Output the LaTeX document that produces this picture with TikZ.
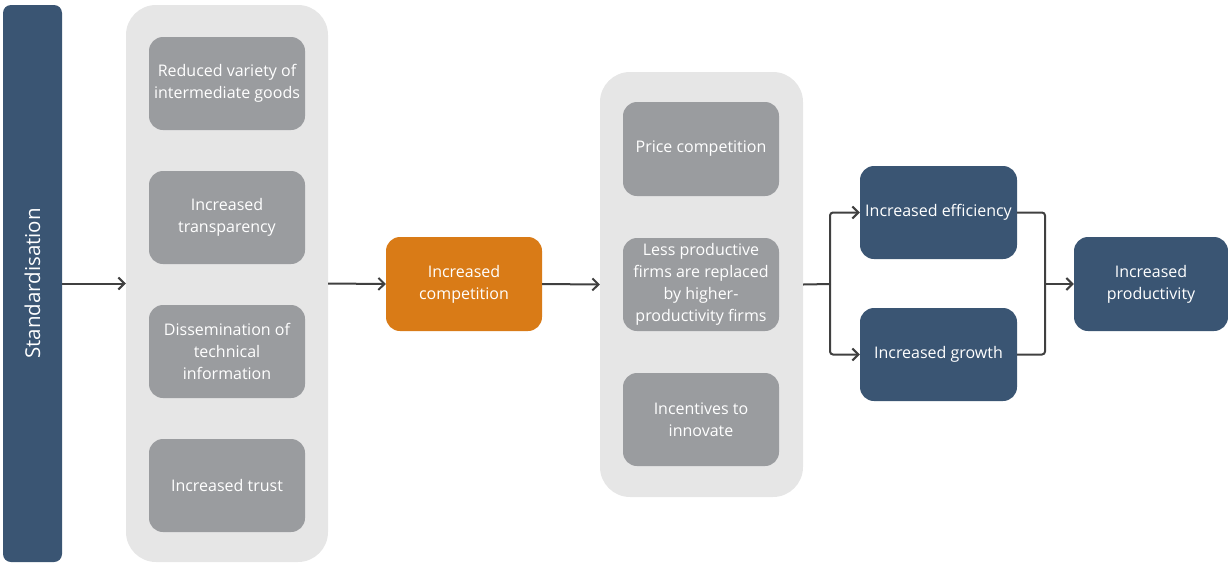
\documentclass[tikz,border=0pt]{standalone}
\usepackage{fontspec}
\setmainfont{Open Sans}
\usetikzlibrary{arrows.meta}

\definecolor{navy}{HTML}{3A5573}
\definecolor{panel}{HTML}{E6E6E6}
\definecolor{greybox}{HTML}{9A9C9F}
\definecolor{orangebox}{HTML}{D97B17}
\definecolor{linegrey}{HTML}{404040}

\tikzset{
	cell/.style={rounded corners=14pt, inner sep=0pt, text=white, align=center,
		font=\fontsize{16}{22}\selectfont},
	greycell/.style={cell, fill=greybox, minimum width=156pt, minimum height=93pt},
	bluecell/.style={cell, fill=navy, minimum width=157pt, minimum height=93pt},
	panelbox/.style={rounded corners=30pt, fill=panel, inner sep=0pt},
	link/.style={draw=linegrey, line width=2pt, -{Straight Barb[length=6pt,width=12pt]}},
	joint/.style={draw=linegrey, line width=2pt, rounded corners=3pt}
}

\begin{document}
\begin{tikzpicture}[x=1pt, y=-1pt]
		\useasboundingbox (0,0) rectangle (1228,563);

		% containers
		\node[panelbox, minimum width=202pt, minimum height=557pt] (left) at (227,283.5) {};
		\node[panelbox, minimum width=203pt, minimum height=425pt] (mid) at (701.5,284.5) {};

		% start bar
		\node[cell, rounded corners=8pt, fill=navy, minimum width=59pt, minimum height=557pt,
			font=\fontsize{20.5}{24}\selectfont] (std) at (32.5,283.5) {\rotatebox{90}{Standardisation}};

		% channels
		\node[greycell] (variety) at (227,83.5) {Reduced variety of\\intermediate goods};
		\node[greycell] (transp) at (227,217.5) {Increased\\transparency};
		\node[greycell] (dissem) at (227,351.5) {Dissemination of\\technical\\information};
		\node[greycell] (trust) at (227,485.5) {Increased trust};

		\node[cell, fill=orangebox, minimum width=156pt, minimum height=94pt] (compet) at (464,284) {Increased\\competition};

		\node[greycell, minimum height=94pt] (price) at (701,149) {Price competition};
		\node[greycell] (replace) at (701,284.5) {Less productive\\firms are replaced\\by higher-\\productivity firms};
		\node[greycell] (innov) at (701,419.5) {Incentives to\\innovate};

		% outcomes
		\node[bluecell] (effic) at (938.5,212.5) {Increased efficiency};
		\node[bluecell] (growth) at (938.5,354.5) {Increased growth};
		\node[bluecell, minimum width=154pt, minimum height=94pt] (prod) at (1151,284) {Increased\\productivity};

		\coordinate (split) at (830,284);
		\coordinate (merge) at (1045,284);

		\draw[link] (std.east) -- (left.west);
		\draw[link] (left.east) -- (compet.west);
		\draw[link] (compet.east) -- (mid.west);
		\draw[joint] (mid.east) -- (split);
		\draw[link, rounded corners=3pt] (split) |- (effic.west);
		\draw[link, rounded corners=3pt] (split) |- (growth.west);
		\draw[joint] (effic.east) -| (merge);
		\draw[joint] (growth.east) -| (merge);
		\draw[link] (merge) -- (prod.west);

\end{tikzpicture}
\end{document}
